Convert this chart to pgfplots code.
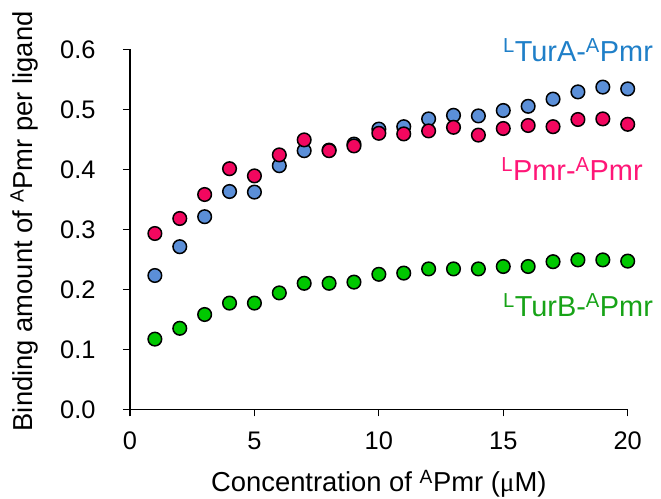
\documentclass[border=0pt]{standalone}
\usepackage{fontspec}
\setmainfont{Liberation Sans}
\newfontfamily\seriffont{Liberation Serif}
\usepackage{pgfplots}
\pgfplotsset{compat=1.18}
\usetikzlibrary{calc}
\definecolor{bluefill}{HTML}{5B8FD8}
\definecolor{bluetext}{HTML}{1F7FC8}
\definecolor{redfill}{HTML}{F2075F}
\definecolor{redtext}{HTML}{FF1677}
\definecolor{greenfill}{HTML}{00C800}
\definecolor{greentext}{HTML}{17A317}
\pgfplotsset{dot/.style={only marks, mark=*, mark size=6.8bp,
    mark options={draw=black, fill=#1, line width=1.5bp}}}
\begin{document}
\begin{tikzpicture}
\begin{axis}[
  scale only axis,
  width=497.7bp, height=360bp,
  xmin=0, xmax=20, ymin=0, ymax=0.6,
  axis x line*=bottom, axis y line*=left,
  axis line style={line width=1.3bp, -},
  xtick={0,5,10,15,20},
  ytick={0,0.1,0.2,0.3,0.4,0.5,0.6},
  yticklabel style={/pgf/number format/fixed, /pgf/number format/fixed zerofill, /pgf/number format/precision=1},
  /pgf/number format/assume math mode=true,
  tick align=outside,
  major tick length=7bp,
  tick style={line width=1.3bp, black},
  ticklabel style={font=\fontsize{25.5}{30}\selectfont},
  xticklabel style={yshift=-12bp},
  yticklabel style={xshift=-24bp},
  label style={font=\fontsize{27.5}{32}\selectfont},
  xlabel={Concentration of \textsuperscript{A}Pmr ({\seriffont μ}M)},
  ylabel={Binding amount of \textsuperscript{A}Pmr per ligand},
  xlabel style={at={(axis description cs:0.5,-0.2297)}, anchor=base},
  ylabel style={at={(axis description cs:-0.212,0.522)}, anchor=center},
  clip=false,
]
\addplot[dot=bluefill] coordinates {
(1,0.223)(2,0.271)(3,0.321)(4,0.363)(5,0.362)(6,0.406)(7,0.431)(8,0.432)(9,0.442)(10,0.467)
(11,0.471)(12,0.484)(13,0.490)(14,0.489)(15,0.498)(16,0.505)(17,0.517)(18,0.529)(19,0.537)(20,0.534)};
\addplot[dot=redfill] coordinates {
(1,0.293)(2,0.318)(3,0.358)(4,0.401)(5,0.389)(6,0.424)(7,0.449)(8,0.431)(9,0.439)(10,0.460)
(11,0.459)(12,0.464)(13,0.470)(14,0.457)(15,0.468)(16,0.473)(17,0.471)(18,0.483)(19,0.484)(20,0.475)};
\addplot[dot=greenfill] coordinates {
(1,0.117)(2,0.135)(3,0.158)(4,0.177)(5,0.177)(6,0.194)(7,0.210)(8,0.210)(9,0.212)(10,0.225)
(11,0.227)(12,0.234)(13,0.234)(14,0.234)(15,0.238)(16,0.238)(17,0.246)(18,0.249)(19,0.249)(20,0.247)};
\node[anchor=base east, inner sep=0pt, text=bluetext, font=\fontsize{29}{34}\selectfont] at (axis cs:21.02,0.5793) {\textsuperscript{L}TurA-\textsuperscript{A}Pmr};
\node[anchor=base east, inner sep=0pt, text=redtext, font=\fontsize{29}{34}\selectfont] at (axis cs:20.61,0.382) {\textsuperscript{L}Pmr-\textsuperscript{A}Pmr};
\node[anchor=base east, inner sep=0pt, text=greentext, font=\fontsize{29}{34}\selectfont] at (axis cs:21.02,0.1555) {\textsuperscript{L}TurB-\textsuperscript{A}Pmr};
\coordinate (O) at (axis cs:0,0);
\end{axis}
\pgfresetboundingbox
\useasboundingbox ($(O)+(-130bp,-89.7bp)$) rectangle ($(O)+(531bp,409.3bp)$);
\end{tikzpicture}
\end{document}
